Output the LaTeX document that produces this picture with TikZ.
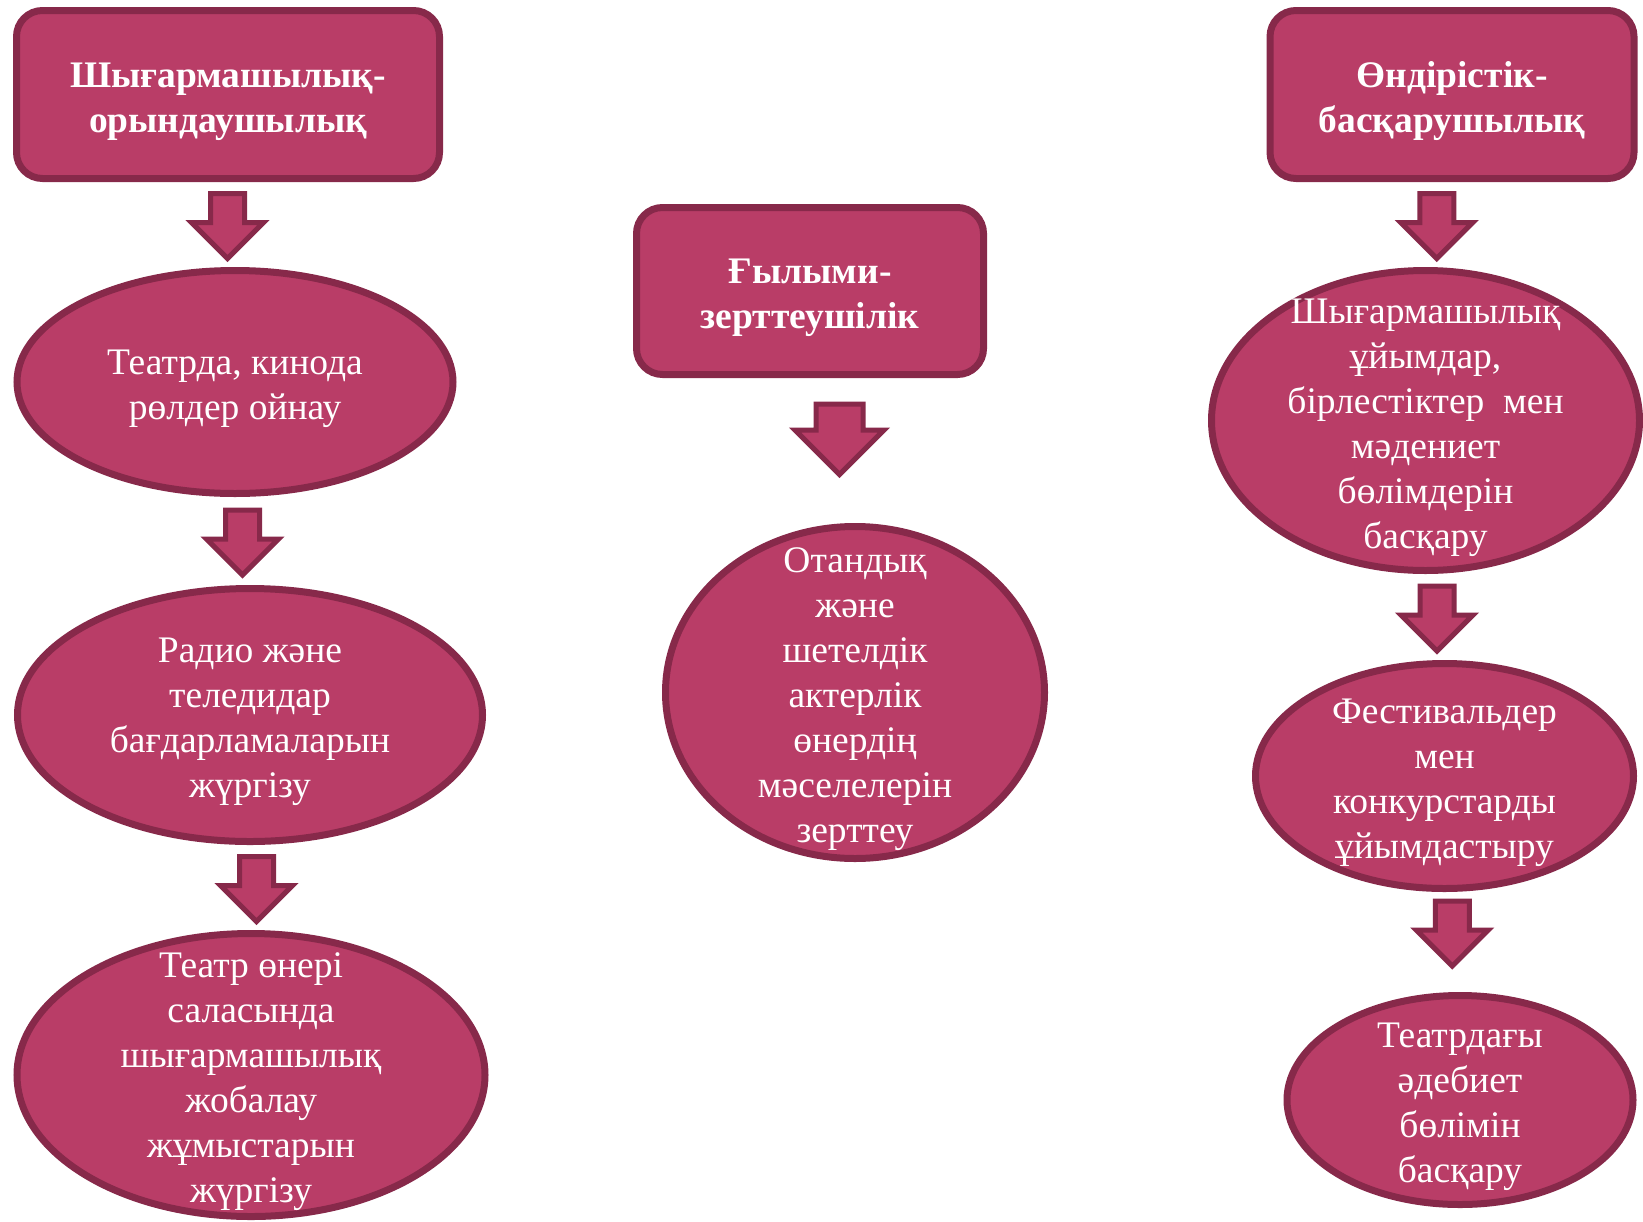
\documentclass[tikz,border=0pt]{standalone}
\usepackage{fontspec}
\setmainfont{Liberation Serif}
\usetikzlibrary{shapes.geometric,shapes.arrows,calc}

\definecolor{roseFill}{RGB}{185,61,103}
\definecolor{roseLine}{RGB}{135,41,74}

\begin{document}
\begin{tikzpicture}[x=1pt, y=-1pt,
		basic/.style   = {draw=roseLine, fill=roseFill, inner sep=0pt},
		head/.style    = {basic, line width=7pt, rounded corners=26pt},
		oval/.style    = {basic, line width=7pt, ellipse},
		words/.style   = {text=white, align=center, inner sep=0pt, font=\fontsize{37.5}{45}\selectfont},
		title/.style   = {words, font=\fontsize{37.5}{45}\selectfont\bfseries},
		pointer/.style = {basic, line width=5pt, single arrow, shape border rotate=270,
		                  inner sep=14.5pt, minimum height=65pt, minimum width=60pt,
		                  single arrow head extend=19pt, single arrow head indent=0pt},
		wide pointer/.style = {pointer, inner sep=21pt, minimum height=67pt, minimum width=60pt,
		                  single arrow head extend=21pt}]
		
		\useasboundingbox (0,0) rectangle (1643,1221);
		
		% the three headings
		\node[head, minimum width=423pt, minimum height=168pt] (h1) at (228,94.5) {};
		\node[head, minimum width=347pt, minimum height=167pt] (h2) at (810,291) {};
		\node[head, minimum width=364pt, minimum height=168pt] (h3) at (1452,94.5) {};
		
		\node[title] (th1) at ([yshift=-7pt]h1) {Шығармашылық-\\орындаушылық};
		\node[title] (th2) at ([yshift=-7pt]h2) {Ғылыми-\\зерттеушілік};
		\node[title] (th3) at ([yshift=-7pt]h3) {Өндірістік-\\басқарушылық};
		
		% left column
		\node[oval, minimum width=436pt, minimum height=223pt] (e11) at (235,382) {};
		\node[oval, minimum width=465pt, minimum height=253pt] (e12) at (250,715) {};
		\node[oval, minimum width=468pt, minimum height=283pt] (e13) at (251,1075) {};
		
		% middle column
		\node[oval, minimum width=379pt, minimum height=332pt] (e21) at (855,692.5) {};
		
		% right column
		\node[oval, minimum width=428pt, minimum height=300pt] (e31) at (1425.5,420.5) {};
		\node[oval, minimum width=378pt, minimum height=225pt] (e32) at (1444.5,776) {};
		\node[oval, minimum width=346pt, minimum height=209pt] (e33) at (1460,1100) {};
		
		% texts inside the ovals
		\node[words] (t11) at ([yshift=-7pt]e11) {Театрда, кинода\\рөлдер ойнау};
		\node[words] (t12) at ([yshift=-7pt]e12) {Радио және\\теледидар\\бағдарламаларын\\жүргізу};
		\node[words] (t13) at ([yshift=-7pt]e13) {Театр өнері\\саласында\\шығармашылық\\жобалау\\жұмыстарын\\жүргізу};
		\node[words] (t21) at ([yshift=-7pt]e21) {Отандық\\және\\шетелдік\\актерлік\\өнердің\\мәселелерін\\зерттеу};
		\node[words] (t31) at ([yshift=-7pt]e31) {Шығармашылық\\ұйымдар,\\бірлестіктер\ \ мен\\мәдениет\\бөлімдерін\\басқару};
		\node[words] (t32) at ([yshift=-7pt]e32) {Фестивальдер\\мен\\конкурстарды\\ұйымдастыру};
		\node[words] (t33) at ([yshift=-7pt]e33) {Театрдағы\\әдебиет\\бөлімін\\басқару};
		
		% block arrows between the levels
		\foreach \from/\to/\dx/\dy in {h1/e11/-4/7, e11/e12/0/7, e12/e13/6/7, h3/e31/-2/7, e31/e32/2/7, e32/e33/0/17}
		\node[pointer, xshift=\dx pt, yshift=\dy pt] (p-\to) at ($(\from.south)!0.5!(\to.north)$) {};
		
		\node[wide pointer, xshift=7pt, yshift=23pt] (p-e21) at ($(h2.south)!0.5!(e21.north)$) {};
		
	\end{tikzpicture}
\end{document}
